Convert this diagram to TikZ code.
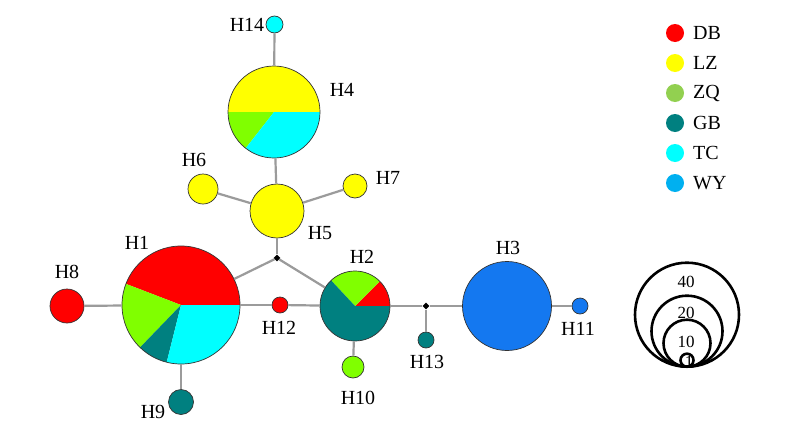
\documentclass[tikz,border=0pt]{standalone}
\usepackage{fontspec}
\setmainfont{Liberation Serif}
\usetikzlibrary{shapes.geometric}
\definecolor{dbred}{RGB}{255,0,0}
\definecolor{lzyellow}{RGB}{255,255,0}
\definecolor{zqgreen}{RGB}{128,255,0}
\definecolor{zqleg}{RGB}{146,208,80}
\definecolor{gbteal}{RGB}{0,128,128}
\definecolor{tccyan}{RGB}{0,255,255}
\definecolor{wyblue}{RGB}{20,120,240}
\definecolor{wyleg}{RGB}{0,176,240}
\definecolor{edgegray}{RGB}{155,155,155}
\tikzset{
  hap/.style={circle, draw=black!80, line width=0.7pt, inner sep=0pt},
  edge/.style={draw=edgegray, line width=2.2pt},
  lab/.style={font=\fontsize{20}{24}\selectfont, inner sep=0pt},
  junc/.style={diamond, fill=black, inner sep=0pt, minimum size=7pt},
  legdot/.style={circle, inner sep=0pt, minimum size=18pt},
  sizering/.style={circle, draw=black, line width=2.6pt, inner sep=0pt, anchor=south},
}

\begin{document}
\begin{tikzpicture}[x=1pt,y=1pt]
    \useasboundingbox[fill=white] (0,0) rectangle (800,-442);
    %% pie haplotypes
    \coordinate (c1) at (181,-305);
    \fill[dbred]    (c1) -- ++(0:59pt)   arc[start angle=0,   end angle=159, radius=59pt] -- cycle;
    \fill[zqgreen]  (c1) -- ++(159:59pt) arc[start angle=159, end angle=226, radius=59pt] -- cycle;
    \fill[gbteal]   (c1) -- ++(226:59pt) arc[start angle=226, end angle=256, radius=59pt] -- cycle;
    \fill[tccyan]   (c1) -- ++(256:59pt) arc[start angle=256, end angle=360, radius=59pt] -- cycle;
    \node[hap, minimum size=118pt] (h1) at (c1) {};
    \coordinate (c2) at (355,-306);
    \fill[dbred]    (c2) -- ++(0:35pt)   arc[start angle=0,   end angle=45,  radius=35pt] -- cycle;
    \fill[zqgreen]  (c2) -- ++(45:35pt)  arc[start angle=45,  end angle=133, radius=35pt] -- cycle;
    \fill[gbteal]   (c2) -- ++(133:35pt) arc[start angle=133, end angle=360, radius=35pt] -- cycle;
    \node[hap, minimum size=70pt] (h2) at (c2) {};
    \coordinate (c4) at (274,-112);
    \fill[lzyellow] (c4) -- ++(0:46pt)   arc[start angle=0,   end angle=180, radius=46pt] -- cycle;
    \fill[zqgreen]  (c4) -- ++(180:46pt) arc[start angle=180, end angle=232, radius=46pt] -- cycle;
    \fill[tccyan]   (c4) -- ++(232:46pt) arc[start angle=232, end angle=360, radius=46pt] -- cycle;
    \node[hap, minimum size=92pt] (h4) at (c4) {};
    %% single colour haplotypes
    \node[hap, fill=wyblue,   minimum size=89pt] (h3)  at (507,-306) {};
    \node[hap, fill=lzyellow, minimum size=54pt] (h5)  at (277,-211) {};
    \node[hap, fill=lzyellow, minimum size=30pt] (h6)  at (203,-189) {};
    \node[hap, fill=lzyellow, minimum size=24pt] (h7)  at (355,-186) {};
    \node[hap, fill=dbred,    minimum size=34pt] (h8)  at (67,-306) {};
    \node[hap, fill=gbteal,   minimum size=25pt] (h9)  at (181,-402) {};
    \node[hap, fill=zqgreen,  minimum size=22pt] (h10) at (353,-367) {};
    \node[hap, fill=wyblue,   minimum size=16pt] (h11) at (580,-306) {};
    \node[hap, fill=dbred,    minimum size=16pt] (h12) at (280,-305) {};
    \node[hap, fill=gbteal,   minimum size=16pt] (h13) at (426,-340) {};
    \node[hap, fill=tccyan,   minimum size=17pt] (h14) at (274.5,-24.5) {};
    \node[junc] (j1) at (277,-258) {};
    \node[junc] (j2) at (426,-306) {};
    %% links
    \draw[edge] (h8) -- (h1);
    \draw[edge] (h1) -- (h12);
    \draw[edge] (h12) -- (h2);
    \draw[edge] (h1) -- (j1);
    \draw[edge] (j1) -- (h5);
    \draw[edge] (j1) -- (h2);
    \draw[edge] (h2) -- (j2);
    \draw[edge] (j2) -- (h3);
    \draw[edge] (j2) -- (h13);
    \draw[edge] (h3) -- (h11);
    \draw[edge] (h1) -- (h9);
    \draw[edge] (h2) -- (h10);
    \draw[edge] (h5) -- (h4);
    \draw[edge] (h4) -- (h14);
    \draw[edge] (h5) -- (h6);
    \draw[edge] (h5) -- (h7);
    %% names
    \node[lab] (t1)  at (137,-243) {H1};
    \node[lab] (t2)  at (362,-257) {H2};
    \node[lab] (t3)  at (508,-248) {H3};
    \node[lab] (t4)  at (342,-90)  {H4};
    \node[lab] (t5)  at (320,-233) {H5};
    \node[lab] (t6)  at (194,-160) {H6};
    \node[lab] (t7)  at (388,-178) {H7};
    \node[lab] (t8)  at (67,-272)  {H8};
    \node[lab] (t9)  at (153,-412) {H9};
    \node[lab] (t10) at (358,-398) {H10};
    \node[lab] (t11) at (578,-329) {H11};
    \node[lab] (t12) at (279,-328) {H12};
    \node[lab] (t13) at (427,-362) {H13};
    \node[lab] (t14) at (247,-25)  {H14};
    %% legend
    \foreach \pop/\col [count=\i] in {DB/dbred, LZ/lzyellow, ZQ/zqleg, GB/gbteal, TC/tccyan, WY/wyleg}{
        \node[legdot, fill=\col] (leg\i) at (675,{-33-30*(\i-1)}) {};
        \node[lab, anchor=west] (legt\i) at (693,{-33-30*(\i-1)}) {\pop};
    }
    %% size scale
    \node[sizering, minimum size=104pt] (s40) at (687,-368) {};
    \node[sizering, minimum size=71pt]  (s20) at (687,-368) {};
    \node[sizering, minimum size=47pt]  (s10) at (687,-368) {};
    \node[sizering, minimum size=13pt]  (s1)  at (687,-368) {};
    \node[lab, font=\fontsize{17}{20}\selectfont] at (686,-282) {40};
    \node[lab, font=\fontsize{17}{20}\selectfont] at (686,-313) {20};
    \node[lab, font=\fontsize{17}{20}\selectfont] at (686,-342) {10};
    \node[lab, font=\fontsize{17}{20}\selectfont] at (689,-362) {1};
\end{tikzpicture}
\end{document}
